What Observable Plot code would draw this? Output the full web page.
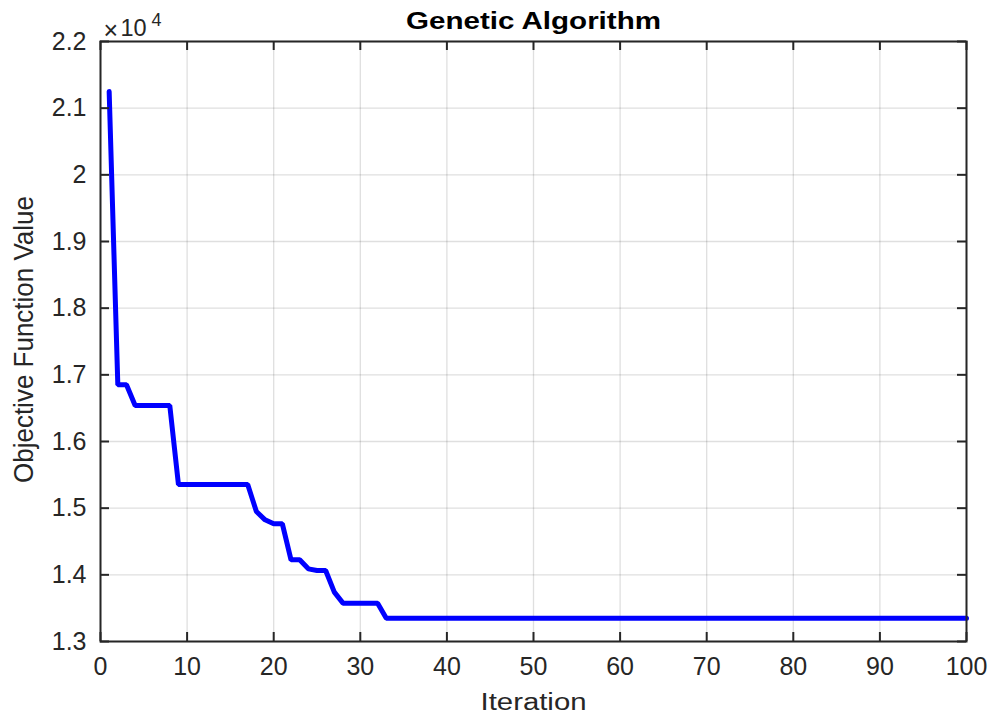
<!DOCTYPE html>
<html>
<head>
<meta charset="utf-8">
<script src="https://cdn.jsdelivr.net/npm/d3@7"></script>
<script src="https://cdn.jsdelivr.net/npm/@observablehq/plot@0.6"></script>
<style>
  body { margin: 0; background: #fff; }
  svg { display: block; }
</style>
</head>
<body>
<div id="chart"></div>
<script>
const iterations = [1,2,3,4,5,6,7,8,9,10,11,12,13,14,15,16,17,18,19,20,21,22,23,24,25,26,27,28,29,30,31,32,33,
  34,35,36,37,38,39,40,41,42,43,44,45,46,47,48,49,50,51,52,53,54,55,56,57,58,59,60,61,62,63,64,65,66,67,68,69,70,
  71,72,73,74,75,76,77,78,79,80,81,82,83,84,85,86,87,88,89,90,91,92,93,94,95,96,97,98,99,100];
const objective = [21250,16850,16850,16540,16540,16540,16540,16540,15355,15355,15355,15355,15355,15355,15355,15355,15355,
  14950,14825,14765,14765,14225,14225,14090,14065,14065,13740,13575,13575,13575,13575,13575,13350,
  13350,13350,13350,13350,13350,13350,13350,13350,13350,13350,13350,13350,13350,13350,13350,13350,13350,
  13350,13350,13350,13350,13350,13350,13350,13350,13350,13350,13350,13350,13350,13350,13350,13350,13350,13350,13350,13350,
  13350,13350,13350,13350,13350,13350,13350,13350,13350,13350,13350,13350,13350,13350,13350,13350,13350,13350,13350,13350,
  13350,13350,13350,13350,13350,13350,13350,13350,13350,13350];
const xTicks = [0,10,20,30,40,50,60,70,80,90,100];
const yTicks = [13000,14000,15000,16000,17000,18000,19000,20000,21000,22000];
const titleText = "Genetic Algorithm";
const xLabel = "Iteration";
const yLabel = "Objective Function Value";
const exponentBase = ["×", "10"];
const exponentPower = "4";

const data = iterations.map((x, i) => ({x, y: objective[i]}));

const W = 991, H = 715, mL = 100, mR = 25, mT = 41, mB = 74;
const pw = W - mL - mR, ph = H - mT - mB;
const ink = "#262626";
const font = "Liberation Sans, Arial, Helvetica, sans-serif";

const chart = Plot.plot({
  width: W, height: H,
  marginLeft: mL, marginRight: mR, marginTop: mT, marginBottom: mB,
  style: {fontFamily: font, fontSize: "25px", color: ink, background: "#fff", overflow: "visible"},
  x: {domain: [0, 100]},
  y: {domain: [13000, 22000]},
  marks: [
    Plot.gridX(xTicks, {stroke: "#262626", strokeOpacity: 0.15, strokeWidth: 1.3}),
    Plot.gridY(yTicks, {stroke: "#262626", strokeOpacity: 0.15, strokeWidth: 1.3}),
    Plot.line(data, {x: "x", y: "y", stroke: "#0000ff", strokeWidth: 5, strokeLinejoin: "miter"}),
    Plot.frame({stroke: ink, strokeWidth: 2}),
    Plot.ruleX(xTicks, {x: d => d, insetTop: ph - 9, stroke: ink, strokeWidth: 2}),
    Plot.ruleX(xTicks, {x: d => d, insetBottom: ph - 9, stroke: ink, strokeWidth: 2}),
    Plot.ruleY(yTicks, {y: d => d, insetRight: pw - 9, stroke: ink, strokeWidth: 2}),
    Plot.ruleY(yTicks, {y: d => d, insetLeft: pw - 9, stroke: ink, strokeWidth: 2}),
    Plot.axisX(xTicks, {tickSize: 0, tickPadding: 16, fontSize: 25, label: null, fill: ink}),
    Plot.axisY(yTicks, {tickSize: 0, tickPadding: 14, fontSize: 25, label: null, fill: ink,
      tickFormat: d => d3.format("")(d / 10000)}),
    Plot.text([titleText], {frameAnchor: "top", lineAnchor: "middle", textAnchor: "middle", dy: -20.5, fontSize: 24.5, fontWeight: "bold", fill: "#000", className: "ttl"}),
    Plot.text([xLabel], {frameAnchor: "bottom", lineAnchor: "middle", textAnchor: "middle", dy: 61, fontSize: 23.5, fill: ink, className: "xlab"}),
    Plot.text([yLabel], {frameAnchor: "left", lineAnchor: "middle", textAnchor: "middle", dx: -76, dy: -2, rotate: -90, fontSize: 27, fill: ink, className: "ylab"}),
    Plot.text([exponentBase[0]], {frameAnchor: "top-left", textAnchor: "start", lineAnchor: "bottom", dx: 3, dy: -3, fontSize: 25, fill: ink}),
    Plot.text([exponentBase[1]], {frameAnchor: "top-left", textAnchor: "start", lineAnchor: "bottom", dx: 20, dy: -6, fontSize: 23.5, fill: ink}),
    Plot.text([exponentPower], {frameAnchor: "top-left", textAnchor: "start", lineAnchor: "bottom", dx: 51, dy: -16, fontSize: 18, fill: ink})
  ]
});
const svg = d3.select(chart);
svg.selectAll(".ttl text").attr("textLength", 255).attr("lengthAdjust", "spacingAndGlyphs");
svg.selectAll(".xlab text").attr("textLength", 106).attr("lengthAdjust", "spacingAndGlyphs");
svg.selectAll(".ylab text").attr("textLength", 287).attr("lengthAdjust", "spacingAndGlyphs");
document.getElementById("chart").append(chart);
</script>
</body>
</html>
